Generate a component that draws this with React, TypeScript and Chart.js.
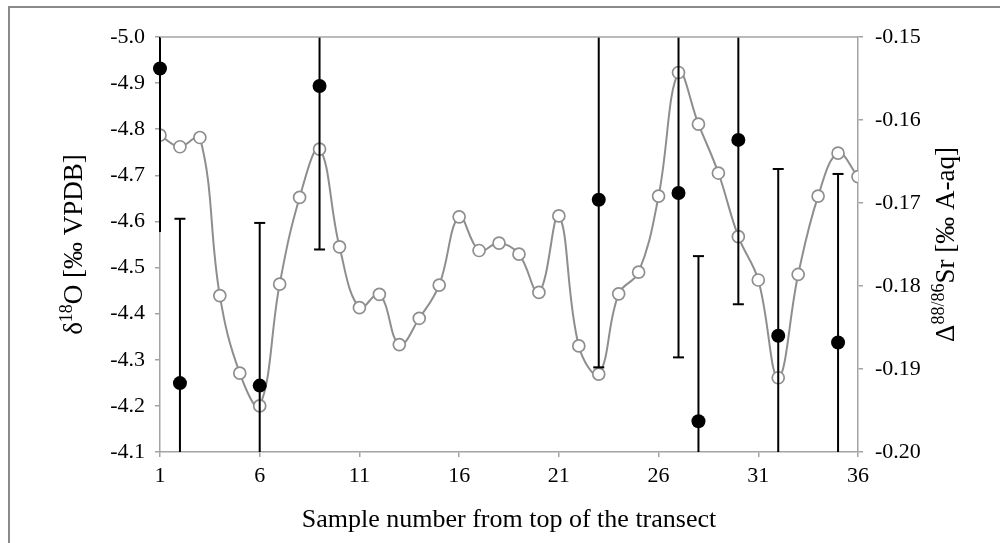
import React, { useEffect, useRef } from "react";
import { Chart, registerables } from "chart.js";

Chart.register(...registerables);

// ---- data ----
const sampleNumbers = [1, 2, 3, 4, 5, 6, 7, 8, 9, 10, 11, 12, 13, 14, 15, 16, 17, 18, 19, 20, 21, 22, 23, 24, 25, 26, 27, 28, 29, 30, 31, 32, 33, 34, 35, 36];
const d18O = [-4.787, -4.762, -4.782, -4.439, -4.271, -4.2, -4.464, -4.652, -4.757, -4.545, -4.413, -4.442, -4.333, -4.39, -4.462, -4.61, -4.537, -4.553, -4.529, -4.446, -4.612, -4.33, -4.269, -4.443, -4.49, -4.655, -4.923, -4.811, -4.705, -4.567, -4.473, -4.261, -4.485, -4.655, -4.748, -4.697];
const srSamples = [1, 2, 6, 9, 23, 27, 28, 30, 32, 35];
const srValues = [-0.1538, -0.1917, -0.192, -0.1559, -0.1696, -0.1688, -0.1963, -0.1624, -0.186, -0.1868];
const srErrors = [0.0197, 0.0198, 0.0196, 0.0197, 0.0202, 0.0198, 0.0199, 0.0198, 0.0201, 0.0203];
const xTicks = [1, 6, 11, 16, 21, 26, 31, 36];
const leftTicks = [-5.0, -4.9, -4.8, -4.7, -4.6, -4.5, -4.4, -4.3, -4.2, -4.1];
const rightTicks = [-0.15, -0.16, -0.17, -0.18, -0.19, -0.2];
const xTitle = "Sample number from top of the transect";
const leftTitle = [
  { t: "δ", sup: false },
  { t: "18", sup: true },
  { t: "O [‰ VPDB]", sup: false },
];
const rightTitle = [
  { t: "Δ", sup: false },
  { t: "88/86", sup: true },
  { t: "Sr [‰ A-aq]", sup: false },
];

const FONT = "'Liberation Serif', 'Times New Roman', serif";
const AXIS_GRAY = "#a3a3a3";
const LINE_GRAY = "#8e8e8e";

function drawRich(ctx: CanvasRenderingContext2D, runs: { t: string; sup: boolean }[], cx: number, cy: number, rot: number, size: number) {
  const supSize = Math.round(size * 0.68);
  ctx.save();
  ctx.translate(cx, cy);
  ctx.rotate(rot);
  ctx.fillStyle = "#000";
  ctx.textBaseline = "alphabetic";
  ctx.textAlign = "left";
  let total = 0;
  const widths = runs.map((r) => {
    ctx.font = `${r.sup ? supSize : size}px ${FONT}`;
    const w = ctx.measureText(r.t).width;
    total += w;
    return w;
  });
  let x = -total / 2;
  const base = size * 0.33;
  runs.forEach((r, i) => {
    ctx.font = `${r.sup ? supSize : size}px ${FONT}`;
    ctx.fillText(r.t, x, r.sup ? base - size * 0.36 : base);
    x += widths[i];
  });
  ctx.restore();
}

const decorPlugin = {
  id: "decor",
  beforeDraw(chart: any) {
    const ctx = chart.ctx as CanvasRenderingContext2D;
    ctx.save();
    ctx.fillStyle = "#fff";
    ctx.fillRect(0, 0, chart.width, chart.height);
    ctx.strokeStyle = "#8a8a8a";
    ctx.lineWidth = 2;
    ctx.beginPath();
    ctx.moveTo(9, chart.height + 5);
    ctx.lineTo(9, 7);
    ctx.lineTo(chart.width + 5, 7);
    ctx.stroke();
    ctx.restore();
  },
  afterDraw(chart: any) {
    const ctx = chart.ctx as CanvasRenderingContext2D;
    const a = chart.chartArea;
    ctx.save();
    ctx.strokeStyle = AXIS_GRAY;
    ctx.lineWidth = 1.5;
    ctx.beginPath();
    ctx.moveTo(a.left, a.top);
    ctx.lineTo(a.right, a.top);
    ctx.stroke();
    ctx.restore();
    const cy = (a.top + a.bottom) / 2;
    drawRich(ctx, leftTitle, a.left - 87, cy, -Math.PI / 2, 27);
    drawRich(ctx, rightTitle, a.right + 87, cy, -Math.PI / 2, 27);
    ctx.save();
    ctx.font = `26px ${FONT}`;
    ctx.fillStyle = "#000";
    ctx.textAlign = "center";
    ctx.textBaseline = "alphabetic";
    ctx.fillText(xTitle, (a.left + a.right) / 2, a.bottom + 75);
    ctx.restore();
  },
};

const errorBarPlugin = {
  id: "errbars",
  beforeDatasetDraw(chart: any, args: any) {
    if (args.index !== 1) return;
    const ctx = chart.ctx as CanvasRenderingContext2D;
    const a = chart.chartArea;
    const xs = chart.scales.x;
    const ys = chart.scales.y1;
    ctx.save();
    ctx.beginPath();
    ctx.rect(a.left - 10, a.top, a.right - a.left + 20, a.bottom - a.top);
    ctx.clip();
    ctx.strokeStyle = "#000";
    ctx.lineWidth = 2;
    srSamples.forEach((s, i) => {
      const px = xs.getPixelForValue(s);
      const hi = ys.getPixelForValue(srValues[i] + srErrors[i]);
      const lo = ys.getPixelForValue(srValues[i] - srErrors[i]);
      ctx.beginPath();
      ctx.moveTo(px, hi);
      ctx.lineTo(px, lo);
      ctx.stroke();
      const capOk = px > a.left + 1;
      [hi, lo].forEach((py) => {
        if (capOk && py > a.top + 1 && py < a.bottom - 1) {
          ctx.beginPath();
          ctx.moveTo(px - 5.5, py);
          ctx.lineTo(px + 5.5, py);
          ctx.stroke();
        }
      });
    });
    ctx.restore();
  },
};

export default function App() {
  const ref = useRef<HTMLCanvasElement>(null);
  useEffect(() => {
    if (!ref.current) return;
    const chart = new Chart(ref.current, {
      type: "scatter",
      data: {
        datasets: [
          {
            label: "δ18O",
            data: sampleNumbers.map((s, i) => ({ x: s, y: d18O[i] })),
            yAxisID: "y",
            showLine: true,
            tension: 0.4,
            borderColor: LINE_GRAY,
            borderWidth: 2,
            pointRadius: 6,
            pointBackgroundColor: "#ffffff",
            pointBorderColor: LINE_GRAY,
            pointBorderWidth: 1.7,
            order: 1,
          },
          {
            label: "Δ88/86Sr",
            data: srSamples.map((s, i) => ({ x: s, y: srValues[i] })),
            yAxisID: "y1",
            showLine: false,
            pointRadius: 7,
            pointBackgroundColor: "#000",
            pointBorderColor: "#000",
            pointBorderWidth: 0,
            clip: false,
            order: 0,
          } as any,
        ],
      },
      options: {
        responsive: false,
        devicePixelRatio: 1,
        animation: false,
        layout: { padding: { top: 37, left: 0, right: 0, bottom: 0 } },
        plugins: { legend: { display: false }, tooltip: { enabled: false } },
        scales: {
          x: {
            type: "linear",
            min: 1,
            max: 36,
            afterBuildTicks: (s: any) => {
              s.ticks = xTicks.map((v) => ({ value: v }));
            },
            afterFit: (s: any) => {
              s.height = 91;
            },
            ticks: { color: "#000", font: { family: FONT, size: 22 }, padding: 6, autoSkip: false, maxRotation: 0, callback: (v: any) => String(v) },
            grid: { drawOnChartArea: false, drawTicks: true, tickLength: 5, color: AXIS_GRAY, lineWidth: 1.5 },
            border: { color: AXIS_GRAY, width: 1.5 },
          },
          y: {
            type: "linear",
            position: "left",
            min: -5.0,
            max: -4.1,
            reverse: true,
            afterBuildTicks: (s: any) => {
              s.ticks = leftTicks.map((v) => ({ value: v }));
            },
            afterFit: (s: any) => {
              s.width = 160;
            },
            ticks: { color: "#000", font: { family: FONT, size: 22 }, padding: 10, callback: (v: any) => Number(v).toFixed(1) },
            grid: { drawOnChartArea: false, drawTicks: true, tickLength: 5, color: AXIS_GRAY, lineWidth: 1.5 },
            border: { color: AXIS_GRAY, width: 1.5 },
          },
          y1: {
            type: "linear",
            position: "right",
            min: -0.2,
            max: -0.15,
            afterBuildTicks: (s: any) => {
              s.ticks = rightTicks.map((v) => ({ value: v }));
            },
            afterFit: (s: any) => {
              s.width = 142;
            },
            ticks: { color: "#000", font: { family: FONT, size: 22 }, padding: 12, callback: (v: any) => Number(v).toFixed(2) },
            grid: { drawOnChartArea: false, drawTicks: true, tickLength: 5, color: AXIS_GRAY, lineWidth: 1.5 },
            border: { color: AXIS_GRAY, width: 1.5 },
          },
        },
      } as any,
      plugins: [decorPlugin, errorBarPlugin],
    });
    return () => chart.destroy();
  }, []);
  return (
    <div style={{ position: "fixed", left: 0, top: 0, width: 1000, height: 543, background: "#fff" }}>
      <canvas ref={ref} width={1000} height={543} style={{ display: "block", width: 1000, height: 543 }} />
    </div>
  );
}
